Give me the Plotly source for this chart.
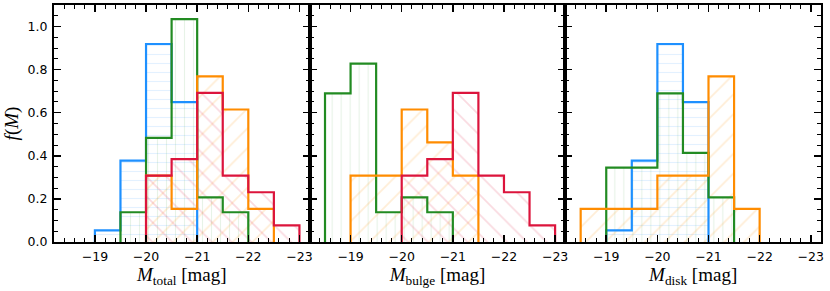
import plotly.graph_objects as go

# ---- data ----
bin_edges = [-18.5, -19.0, -19.5, -20.0, -20.5, -21.0, -21.5, -22.0, -22.5, -23.0]

total_blue   = [0, 0.054, 0.378, 0.919, 0.649, 0, 0, 0, 0]
total_green  = [0, 0, 0.138, 0.483, 1.034, 0.207, 0.138, 0, 0]
total_orange = [0, 0, 0, 0.308, 0.154, 0.769, 0.615, 0.154, 0]
total_red    = [0, 0, 0, 0.308, 0.385, 0.692, 0.308, 0.231, 0.077]

bulge_green  = [0.690, 0.828, 0.138, 0.207, 0.138, 0, 0, 0, 0]
bulge_orange = [0, 0.308, 0.308, 0.615, 0.462, 0.308, 0, 0, 0]
bulge_red    = [0, 0, 0, 0.308, 0.385, 0.692, 0.308, 0.231, 0.077]

disk_blue    = [0, 0.054, 0.378, 0.919, 0.649, 0, 0, 0, 0]
disk_green   = [0, 0.345, 0.345, 0.690, 0.414, 0.207, 0, 0, 0]
disk_orange  = [0.154, 0.154, 0.154, 0.308, 0.308, 0.769, 0.154, 0, 0]

x_titles = ["<i>M</i><sub>total</sub> [mag]",
            "<i>M</i><sub>bulge</sub> [mag]",
            "<i>M</i><sub>disk</sub> [mag]"]
y_title = "<i>f</i>(<i>M</i>)"

# ---- styles ----
styles = {
    "blue":   dict(line="#1E90FF", hatch="rgba(30,144,255,0.25)", shape="-", size=9),
    "green":  dict(line="#228B22", hatch="rgba(34,139,34,0.22)", shape="|", size=9),
    "orange": dict(line="#FF8C00", hatch="rgba(255,140,0,0.32)", shape="/", size=14),
    "red":    dict(line="#DC143C", hatch="rgba(220,20,60,0.32)", shape="\\", size=14),
}

panels = [
    [("blue", total_blue), ("green", total_green), ("orange", total_orange), ("red", total_red)],
    [("green", bulge_green), ("orange", bulge_orange), ("red", bulge_red)],
    [("blue", disk_blue), ("green", disk_green), ("orange", disk_orange)],
]

fig = go.Figure()

centers = [(bin_edges[i] + bin_edges[i + 1]) / 2 for i in range(len(bin_edges) - 1)]
widths = [abs(bin_edges[i + 1] - bin_edges[i]) for i in range(len(bin_edges) - 1)]

for p, series in enumerate(panels):
    xa = "x" if p == 0 else f"x{p+1}"
    ya = "y" if p == 0 else f"y{p+1}"
    for name, vals in series:
        st = styles[name]
        # hatch fill
        fig.add_trace(go.Bar(
            x=centers, y=vals, width=widths, xaxis=xa, yaxis=ya,
            marker=dict(color="rgba(0,0,0,0)", line=dict(width=0),
                        pattern=dict(shape=st["shape"], fgcolor=st["hatch"],
                                     bgcolor="rgba(0,0,0,0)", size=st["size"],
                                     solidity=0.12, fillmode="overlay")),
            showlegend=False, hoverinfo="skip"))
        # step outline over the non-zero range
        nz = [i for i, v in enumerate(vals) if v > 0]
        i0, i1 = nz[0], nz[-1]
        xs = [bin_edges[i0]] + [bin_edges[i] for i in range(i0, i1 + 1)] + [bin_edges[i1 + 1]]
        ys = [0] + [vals[i] for i in range(i0, i1 + 1)] + [0]
        fig.add_trace(go.Scatter(
            x=xs, y=ys, mode="lines", line=dict(color=st["line"], width=2.2, shape="hv"),
            xaxis=xa, yaxis=ya, showlegend=False, hoverinfo="skip"))

tickfont = dict(family="DejaVu Sans", size=12.5, color="black")
titlefont = dict(family="Liberation Serif", size=19, color="black")

layout = dict(
    width=830, height=291,
    margin=dict(l=54, r=9, t=5, b=49, autoexpand=False),
    paper_bgcolor="white", plot_bgcolor="white",
    barmode="overlay", bargap=0,
)

doms = [[0, 1 / 3], [1 / 3, 2 / 3], [2 / 3, 1]]
for p in range(3):
    xk = "xaxis" if p == 0 else f"xaxis{p+1}"
    yk = "yaxis" if p == 0 else f"yaxis{p+1}"
    ya = "y" if p == 0 else f"y{p+1}"
    xa = "x" if p == 0 else f"x{p+1}"
    layout[xk] = dict(
        domain=doms[p], anchor=ya, range=[-18.2, -23.2], automargin=False,
        tick0=-19, dtick=1, ticks="inside", ticklen=7, tickwidth=1.5, tickcolor="black",
        minor=dict(ticks="inside", dtick=0.2, tick0=-19, ticklen=4, tickwidth=1, tickcolor="black"),
        showline=True, linecolor="black", linewidth=2, mirror="allticks",
        showgrid=False, zeroline=False, tickfont=tickfont, ticklabelstandoff=2,
        title=dict(text=x_titles[p], font=titlefont, standoff=3),
    )
    layout[yk] = dict(
        domain=[0, 1], anchor=xa, range=[0, 1.1], automargin=False,
        tick0=0, dtick=0.2, tickformat=".1f", ticks="inside", ticklen=7, tickwidth=1.5,
        tickcolor="black",
        minor=dict(ticks="inside", dtick=0.05, tick0=0, ticklen=4, tickwidth=1, tickcolor="black"),
        showline=True, linecolor="black", linewidth=2, mirror="allticks",
        showgrid=False, zeroline=False, tickfont=tickfont, ticklabelstandoff=2,
        showticklabels=(p == 0),
    )
layout["yaxis"]["title"] = dict(text=y_title, font=titlefont, standoff=4)

fig.update_layout(**layout)
fig.write_html("out.html",
               config={"displayModeBar": False, "staticPlot": True},
               post_script="document.body.style.margin='0';document.body.style.overflow='hidden';")
